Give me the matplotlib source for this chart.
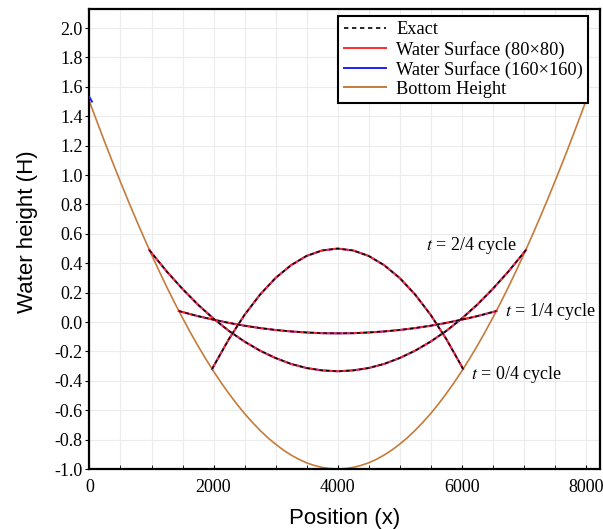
import matplotlib
matplotlib.use("Agg")
import matplotlib.pyplot as plt
from matplotlib.ticker import MultipleLocator

plt.rcParams["font.family"] = ["Liberation Serif", "DejaVu Serif"]
plt.rcParams["axes.unicode_minus"] = False
plt.rcParams["mathtext.fontset"] = "stix"

# bottom of the bowl, read every 125 m
bed_x = list(range(0, 8001, 125))
bed_half = [1.500, 1.359, 1.220, 1.085, 0.953, 0.824, 0.699, 0.577, 0.459, 0.345, 0.235, 0.129,
            0.028, -0.070, -0.163, -0.251, -0.335, -0.414, -0.488, -0.558, -0.623, -0.682,
            -0.737, -0.787, -0.831, -0.871, -0.905, -0.934, -0.958, -0.976, -0.989, -0.997, -1.000]
bed_z = bed_half + bed_half[-2::-1]

# water surface, t = 0/4 cycle (hump)
t0_x = [1977, 2000, 2250, 2500, 2750, 3000, 3250, 3500, 3750, 4000,
        4250, 4500, 4750, 5000, 5250, 5500, 5750, 6000, 6023]
t0_h = [-0.320, -0.301, -0.114, 0.049, 0.187, 0.300, 0.387, 0.450, 0.487, 0.500,
        0.487, 0.450, 0.387, 0.300, 0.187, 0.049, -0.114, -0.301, -0.320]

# t = 1/4 cycle (nearly flat)
t1_x = [1440, 1500, 1750, 2000, 2250, 2500, 2750, 3000, 3250, 3500, 3750, 4000,
        4250, 4500, 4750, 5000, 5250, 5500, 5750, 6000, 6250, 6500, 6560]
t1_h = [0.075, 0.068, 0.040, 0.016, -0.006, -0.025, -0.041, -0.054, -0.064, -0.071, -0.076, -0.077,
        -0.076, -0.071, -0.064, -0.054, -0.041, -0.025, -0.006, 0.016, 0.040, 0.068, 0.075]

# t = 2/4 cycle (bowl shaped)
t2_x = [965, 1000, 1250, 1500, 1750, 2000, 2250, 2500, 2750, 3000, 3250, 3500, 3750, 4000,
        4250, 4500, 4750, 5000, 5250, 5500, 5750, 6000, 6250, 6500, 6750, 7000, 7035]
t2_h = [0.490, 0.471, 0.342, 0.225, 0.118, 0.023, -0.061, -0.133, -0.195, -0.245, -0.285, -0.313, -0.329,
        -0.335, -0.329, -0.313, -0.285, -0.245, -0.195, -0.133, -0.061, 0.023, 0.118, 0.225, 0.342,
        0.471, 0.490]

# wet cell at the left wall (160x160 run)
wall_x = [0, 40]
wall_h = [1.53, 1.50]

labels = ["$t$ = 0/4 cycle", "$t$ = 1/4 cycle", "$t$ = 2/4 cycle"]
label_xy = [(6150, -0.355), (6700, 0.075), (5420, 0.52)]

RED, BLUE, BROWN = "#ff2b2b", "#1c1cff", "#c47c3c"
DASH = (2.6, 2.2)

fig = plt.figure(figsize=(6.03, 5.29), dpi=100)
ax = fig.add_axes([0.1484, 0.1134, 0.8466, 0.8696])

curves = [(t0_x, t0_h), (t1_x, t1_h), (t2_x, t2_h)]
for cx, ch in curves:
    ax.plot(cx, ch, color=BLUE, lw=1.4, zorder=3)
for cx, ch in curves:
    ax.plot(cx, ch, color=RED, lw=1.4, zorder=4)
for cx, ch in curves:
    ax.plot(cx, ch, color="black", lw=1.0, dashes=DASH, zorder=5)
ax.plot(wall_x, wall_h, color=BLUE, lw=1.4, zorder=5)
ax.plot(bed_x, bed_z, color=BROWN, lw=1.2, zorder=2)

for txt, (tx, ty) in zip(labels, label_xy):
    ax.text(tx, ty, txt, fontsize=13, va="center", ha="left")

h_exact, = ax.plot([], [], color="black", lw=1.2, dashes=DASH)
h_80, = ax.plot([], [], color=RED, lw=1.4)
h_160, = ax.plot([], [], color=BLUE, lw=1.4)
h_bed, = ax.plot([], [], color=BROWN, lw=1.4)
leg = ax.legend([h_exact, h_80, h_160, h_bed],
                ["Exact", "Water Surface (80×80)", "Water Surface (160×160)", "Bottom Height"],
                loc="upper right", bbox_to_anchor=(0.977, 0.985), borderaxespad=0,
                fontsize=13.2, fancybox=False, framealpha=1, edgecolor="black",
                handlelength=2.3, handletextpad=0.55, labelspacing=0.12, borderpad=0.3)
leg.get_frame().set_linewidth(1.5)
leg.set_zorder(10)

ax.set_xlim(0, 8230)
ax.set_ylim(-1.0, 2.13)
ax.xaxis.set_major_locator(MultipleLocator(2000))
ax.xaxis.set_minor_locator(MultipleLocator(500))
ax.yaxis.set_major_locator(MultipleLocator(0.2))
ax.yaxis.set_major_formatter(plt.FuncFormatter(lambda v, p: f"{v:.1f}"))
ax.tick_params(axis="x", which="both", direction="in", length=3, labelsize=13, pad=7.5)
ax.tick_params(axis="y", direction="out", length=3, labelsize=13, pad=2)
ax.grid(True, which="both", axis="x", color="#ececec", lw=0.8)
ax.grid(True, which="major", axis="y", color="#ececec", lw=0.8)
ax.set_axisbelow(True)
for sp in ax.spines.values():
    sp.set_linewidth(1.6)

ax.set_xlabel("Position (x)", fontsize=16, family=["Liberation Sans", "DejaVu Sans"], labelpad=8)
ax.set_ylabel("Water height (H)", fontsize=16, family=["Liberation Sans", "DejaVu Sans"])
ax.yaxis.set_label_coords(-0.10, 0.515)

fig.savefig("out.png", dpi=100)
